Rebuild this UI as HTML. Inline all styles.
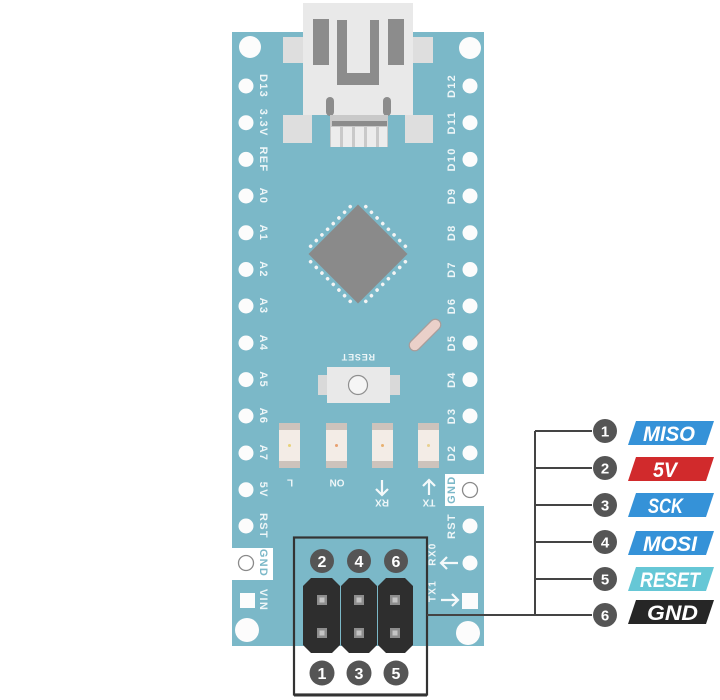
<!DOCTYPE html>
<html><head><meta charset="utf-8"><style>
html,body{margin:0;padding:0;background:#fff;}
svg{display:block;}
text{font-family:"Liberation Sans",sans-serif;}
</style></head><body>
<svg width="720" height="700" viewBox="0 0 720 700" xmlns="http://www.w3.org/2000/svg">
<rect width="720" height="700" fill="#fff"/>
<!-- board -->
<rect x="232" y="32" width="252" height="614" fill="#7bb8c8"/>
<!-- USB -->
<rect x="283" y="37" width="150" height="26" fill="#dedede"/>
<rect x="283" y="115" width="29" height="28" fill="#dedede"/>
<rect x="405" y="115" width="28" height="28" fill="#dedede"/>
<rect x="303" y="3" width="110" height="112" fill="#e9e9e9"/>
<rect x="313" y="19" width="16" height="46" fill="#8c8c8c"/>
<rect x="388" y="19" width="16" height="46" fill="#8c8c8c"/>
<path d="M337 20 H347 V73 H370 V20 H379 V85 H337 Z" fill="#8c8c8c"/>
<rect x="326" y="97" width="8" height="19" rx="4" fill="#8c8c8c"/>
<rect x="383" y="97" width="8" height="19" rx="4" fill="#8c8c8c"/>
<rect x="330" y="115" width="58" height="32" fill="#c9c9c9"/>
<rect x="332" y="121" width="55" height="5" fill="#8c8c8c"/>
<g fill="#ececec">
<rect x="331" y="127" width="9" height="20"/><rect x="343" y="127" width="9" height="20"/><rect x="355" y="127" width="9" height="20"/><rect x="367" y="127" width="9" height="20"/><rect x="379" y="127" width="8" height="20"/>
</g>
<!-- corner holes -->
<g fill="#fcfcfc">
<circle cx="250" cy="47" r="11"/><circle cx="470" cy="48" r="11"/>
<circle cx="247" cy="630" r="12"/><circle cx="468" cy="633" r="12"/>
</g>
<!-- notches -->
<rect x="229" y="548" width="44" height="32" fill="#fff"/>
<rect x="445" y="474" width="41" height="32" fill="#fff"/>
<!-- left holes -->
<g fill="#fcfcfc">
<circle cx="246" cy="86" r="7.5"/><circle cx="246" cy="122.7" r="7.5"/><circle cx="246" cy="159.4" r="7.5"/><circle cx="246" cy="196" r="7.5"/><circle cx="246" cy="232.8" r="7.5"/><circle cx="246" cy="269.5" r="7.5"/><circle cx="246" cy="306" r="7.5"/><circle cx="246" cy="343" r="7.5"/><circle cx="246" cy="379.6" r="7.5"/><circle cx="246" cy="416" r="7.5"/><circle cx="246" cy="453" r="7.5"/><circle cx="246" cy="489.7" r="7.5"/><circle cx="246" cy="526" r="7.5"/>
<rect x="240" y="593" width="15" height="15"/>
<circle cx="470" cy="86" r="7.5"/><circle cx="470" cy="122.7" r="7.5"/><circle cx="470" cy="159.4" r="7.5"/><circle cx="470" cy="196" r="7.5"/><circle cx="470" cy="232.8" r="7.5"/><circle cx="470" cy="269.5" r="7.5"/><circle cx="470" cy="306" r="7.5"/><circle cx="470" cy="343" r="7.5"/><circle cx="470" cy="379.6" r="7.5"/><circle cx="470" cy="416" r="7.5"/><circle cx="470" cy="453" r="7.5"/><circle cx="470" cy="526" r="7.5"/><circle cx="470" cy="563" r="7.5"/>
<rect x="462" y="593" width="16" height="16"/>
</g>
<circle cx="246" cy="563" r="7.5" fill="#fff" stroke="#8a8a8a" stroke-width="1.3"/>
<circle cx="470" cy="490" r="7.5" fill="#fff" stroke="#8a8a8a" stroke-width="1.3"/>
<!-- left labels -->
<g font-size="11" font-weight="bold" fill="#eef6f8" letter-spacing="1.3" text-anchor="middle">
<text x="263" y="86" transform="rotate(90 263 86)" dominant-baseline="central">D13</text>
<text x="263" y="122.7" transform="rotate(90 263 122.7)" dominant-baseline="central">3.3V</text>
<text x="263" y="159.4" transform="rotate(90 263 159.4)" dominant-baseline="central">REF</text>
<text x="263" y="196" transform="rotate(90 263 196)" dominant-baseline="central">A0</text>
<text x="263" y="232.8" transform="rotate(90 263 232.8)" dominant-baseline="central">A1</text>
<text x="263" y="269.5" transform="rotate(90 263 269.5)" dominant-baseline="central">A2</text>
<text x="263" y="306" transform="rotate(90 263 306)" dominant-baseline="central">A3</text>
<text x="263" y="343" transform="rotate(90 263 343)" dominant-baseline="central">A4</text>
<text x="263" y="379.6" transform="rotate(90 263 379.6)" dominant-baseline="central">A5</text>
<text x="263" y="416" transform="rotate(90 263 416)" dominant-baseline="central">A6</text>
<text x="263" y="453" transform="rotate(90 263 453)" dominant-baseline="central">A7</text>
<text x="263" y="489.7" transform="rotate(90 263 489.7)" dominant-baseline="central">5V</text>
<text x="263" y="526" transform="rotate(90 263 526)" dominant-baseline="central">RST</text>
<text x="263" y="563" transform="rotate(90 263 563)" dominant-baseline="central" fill="#7bb8c8">GND</text>
<text x="263" y="600" transform="rotate(90 263 600)" dominant-baseline="central">VIN</text>
<!-- right labels -->
<text x="452" y="86" transform="rotate(-90 452 86)" dominant-baseline="central">D12</text>
<text x="452" y="122.7" transform="rotate(-90 452 122.7)" dominant-baseline="central">D11</text>
<text x="452" y="159.4" transform="rotate(-90 452 159.4)" dominant-baseline="central">D10</text>
<text x="452" y="196" transform="rotate(-90 452 196)" dominant-baseline="central">D9</text>
<text x="452" y="232.8" transform="rotate(-90 452 232.8)" dominant-baseline="central">D8</text>
<text x="452" y="269.5" transform="rotate(-90 452 269.5)" dominant-baseline="central">D7</text>
<text x="452" y="306" transform="rotate(-90 452 306)" dominant-baseline="central">D6</text>
<text x="452" y="343" transform="rotate(-90 452 343)" dominant-baseline="central">D5</text>
<text x="452" y="379.6" transform="rotate(-90 452 379.6)" dominant-baseline="central">D4</text>
<text x="452" y="416" transform="rotate(-90 452 416)" dominant-baseline="central">D3</text>
<text x="452" y="453" transform="rotate(-90 452 453)" dominant-baseline="central">D2</text>
<text x="452" y="489.7" transform="rotate(-90 452 489.7)" dominant-baseline="central" fill="#7bb8c8">GND</text>
<text x="452" y="526" transform="rotate(-90 452 526)" dominant-baseline="central">RST</text>
<text x="433" y="554" transform="rotate(-90 433 554)" dominant-baseline="central" font-size="10">RX0</text>
<text x="433" y="591" transform="rotate(-90 433 591)" dominant-baseline="central" font-size="10">TX1</text>
</g>
<!-- RX0/TX1 arrows -->
<g stroke="#f4f9fa" stroke-width="2.2" fill="none">
<path d="M441 563 H458 M447 557 L441 563 L447 569"/>
<path d="M441 600 H458 M452 594 L458 600 L452 606"/>
</g>
<!-- chip -->
<g transform="rotate(45 358 254)">
<rect x="323" y="219" width="70" height="70" fill="#8a8a8a"/>
<g fill="#f4f4f4">
<circle cx="330" cy="215" r="1.8"/><circle cx="338" cy="215" r="1.8"/><circle cx="346" cy="215" r="1.8"/><circle cx="354" cy="215" r="1.8"/><circle cx="362" cy="215" r="1.8"/><circle cx="370" cy="215" r="1.8"/><circle cx="378" cy="215" r="1.8"/><circle cx="386" cy="215" r="1.8"/>
<circle cx="330" cy="293" r="1.8"/><circle cx="338" cy="293" r="1.8"/><circle cx="346" cy="293" r="1.8"/><circle cx="354" cy="293" r="1.8"/><circle cx="362" cy="293" r="1.8"/><circle cx="370" cy="293" r="1.8"/><circle cx="378" cy="293" r="1.8"/><circle cx="386" cy="293" r="1.8"/>
<circle cx="319" cy="226" r="1.8"/><circle cx="319" cy="234" r="1.8"/><circle cx="319" cy="242" r="1.8"/><circle cx="319" cy="250" r="1.8"/><circle cx="319" cy="258" r="1.8"/><circle cx="319" cy="266" r="1.8"/><circle cx="319" cy="274" r="1.8"/><circle cx="319" cy="282" r="1.8"/>
<circle cx="397" cy="226" r="1.8"/><circle cx="397" cy="234" r="1.8"/><circle cx="397" cy="242" r="1.8"/><circle cx="397" cy="250" r="1.8"/><circle cx="397" cy="258" r="1.8"/><circle cx="397" cy="266" r="1.8"/><circle cx="397" cy="274" r="1.8"/><circle cx="397" cy="282" r="1.8"/>
</g>
</g>
<!-- crystal -->
<rect x="405" y="329.5" width="40" height="11" rx="5.5" fill="#ead0c9" stroke="#a89c9a" stroke-width="1.2" transform="rotate(-45 425 335)"/>
<!-- reset button -->
<text x="358" y="357" transform="rotate(180 358 357)" text-anchor="middle" dominant-baseline="central" font-size="9" font-weight="bold" fill="#eef6f8" letter-spacing="0.8">RESET</text>
<rect x="318" y="375" width="82" height="20" fill="#d9d9d9"/>
<rect x="327" y="367" width="63" height="36" fill="#e9e9e9"/>
<circle cx="358" cy="385" r="9.5" fill="#f5f5f5" stroke="#8f8f8f" stroke-width="1.2"/>
<!-- LEDs -->
<g>
<rect x="279" y="423" width="21" height="45" fill="#cdc3bc"/><rect x="279" y="430" width="21" height="31" fill="#f3ece6"/><circle cx="289.5" cy="445.5" r="1.5" fill="#e8d27a"/>
<rect x="326" y="423" width="21" height="45" fill="#cdc3bc"/><rect x="326" y="430" width="21" height="31" fill="#f3ece6"/><circle cx="336.5" cy="445.5" r="1.5" fill="#e8a070"/>
<rect x="372" y="423" width="21" height="45" fill="#cdc3bc"/><rect x="372" y="430" width="21" height="31" fill="#f3ece6"/><circle cx="382.5" cy="445.5" r="1.5" fill="#e8b070"/>
<rect x="418" y="423" width="21" height="45" fill="#cdc3bc"/><rect x="418" y="430" width="21" height="31" fill="#f3ece6"/><circle cx="428.5" cy="445.5" r="1.5" fill="#e8d090"/>
</g>
<g font-size="10" font-weight="bold" fill="#eef6f8" text-anchor="middle">
<text x="290" y="482" transform="rotate(180 290 482)" dominant-baseline="central">L</text>
<text x="337" y="482" transform="rotate(180 337 482)" dominant-baseline="central">ON</text>
<text x="382" y="502" transform="rotate(180 382 502)" dominant-baseline="central">RX</text>
<text x="429" y="502" transform="rotate(180 429 502)" dominant-baseline="central">TX</text>
</g>
<g stroke="#f4f9fa" stroke-width="2.2" fill="none">
<path d="M382 480 V495 M376 489 L382 495 L388 489"/>
<path d="M429 480 V495 M423 486 L429 480 L435 486"/>
</g>
<!-- ICSP header -->
<g fill="#555">
<circle cx="322" cy="561" r="12"/><circle cx="359" cy="561" r="12"/><circle cx="396" cy="561" r="12"/>
<circle cx="322" cy="673" r="12.5"/><circle cx="359" cy="673" r="12.5"/><circle cx="396" cy="673" r="12.5"/>
</g>
<g fill="#fff" font-size="16" font-weight="bold" text-anchor="middle">
<text x="322" y="567">2</text><text x="359" y="567">4</text><text x="396" y="567">6</text>
<text x="322" y="679">1</text><text x="359" y="679">3</text><text x="396" y="679">5</text>
</g>
<g fill="#2e2e2e">
<polygon points="311,578 332,578 340,586 340,645 332,653 311,653 303,645 303,586"/>
<polygon points="349,578 369,578 377,586 377,645 369,653 349,653 341,645 341,586"/>
<polygon points="386,578 405,578 413,586 413,645 405,653 386,653 378,645 378,586"/>
</g>
<g fill="#8e8e8e">
<rect x="317" y="595" width="10" height="10"/><rect x="354" y="595" width="10" height="10"/><rect x="390" y="595" width="10" height="10"/>
<rect x="317" y="628" width="10" height="10"/><rect x="354" y="628" width="10" height="10"/><rect x="390" y="628" width="10" height="10"/>
</g>
<g fill="#c4c4c4">
<rect x="319.5" y="597.5" width="5" height="5"/><rect x="356.5" y="597.5" width="5" height="5"/><rect x="392.5" y="597.5" width="5" height="5"/>
<rect x="319.5" y="630.5" width="5" height="5"/><rect x="356.5" y="630.5" width="5" height="5"/><rect x="392.5" y="630.5" width="5" height="5"/>
</g>
<rect x="294" y="537.5" width="133" height="157" fill="none" stroke="#333" stroke-width="2.2"/>
<line x1="294" y1="695" x2="427" y2="695" stroke="#333" stroke-width="3"/>
<!-- connector bracket -->
<g stroke="#444" stroke-width="2" fill="none">
<line x1="427" y1="615" x2="535" y2="615"/>
<line x1="535" y1="431" x2="535" y2="616"/>
<line x1="535" y1="431" x2="592" y2="431"/>
<line x1="535" y1="468" x2="592" y2="468"/>
<line x1="535" y1="505" x2="592" y2="505"/>
<line x1="535" y1="542" x2="592" y2="542"/>
<line x1="535" y1="579" x2="592" y2="579"/>
<line x1="535" y1="615" x2="592" y2="615"/>
</g>
<g fill="#555">
<circle cx="605" cy="431" r="12"/><circle cx="605" cy="468" r="12"/><circle cx="605" cy="505" r="12"/><circle cx="605" cy="542" r="12"/><circle cx="605" cy="579" r="12"/><circle cx="605" cy="615" r="12"/>
</g>
<g fill="#fff" font-size="15" font-weight="bold" text-anchor="middle">
<text x="605" y="436.5">1</text><text x="605" y="473.5">2</text><text x="605" y="510.5">3</text><text x="605" y="547.5">4</text><text x="605" y="584.5">5</text><text x="605" y="620.5">6</text>
</g>
<!-- legend labels -->
<polygon points="636,421 714,421 706,445 628,445" fill="#3592d8"/>
<polygon points="636,457 714,457 706,481 628,481" fill="#d12a2c"/>
<polygon points="636,493 714,493 706,517 628,517" fill="#3592d8"/>
<polygon points="636,531 714,531 706,555 628,555" fill="#3592d8"/>
<polygon points="636,567 714,567 706,591 628,591" fill="#66c7d6"/>
<polygon points="636,600 714,600 706,624 628,624" fill="#262626"/>
<g fill="#fff" font-size="21" font-weight="bold" font-style="italic">
<text x="643" y="441" textLength="52" lengthAdjust="spacingAndGlyphs">MISO</text>
<text x="653" y="477" textLength="24" lengthAdjust="spacingAndGlyphs">5V</text>
<text x="648" y="513" textLength="35" lengthAdjust="spacingAndGlyphs">SCK</text>
<text x="643" y="551" textLength="54" lengthAdjust="spacingAndGlyphs">MOSI</text>
<text x="640" y="587" textLength="60" lengthAdjust="spacingAndGlyphs">RESET</text>
<text x="647" y="620" textLength="51" lengthAdjust="spacingAndGlyphs">GND</text>
</g>
</svg>
</body></html>
